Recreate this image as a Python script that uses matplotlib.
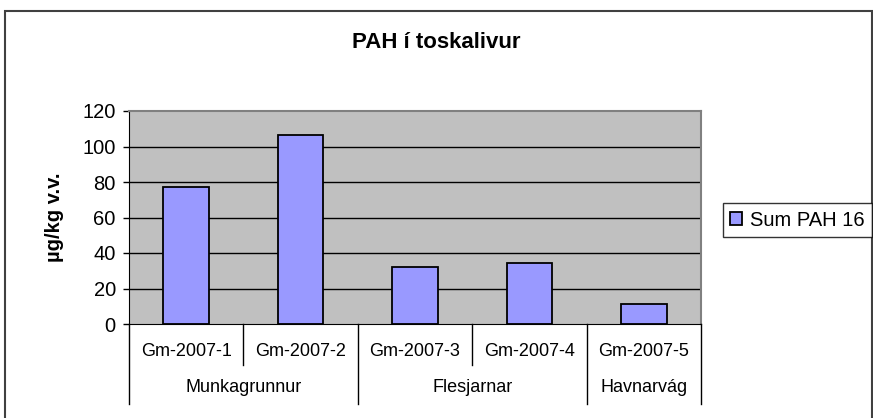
import matplotlib.pyplot as plt
from matplotlib.patches import Rectangle
from matplotlib.lines import Line2D
import matplotlib.transforms as mtransforms

plt.rcParams['font.family'] = ['Liberation Sans', 'DejaVu Sans']

# data
samples = ["Gm-2007-1", "Gm-2007-2", "Gm-2007-3", "Gm-2007-4", "Gm-2007-5"]
sites = ["Munkagrunnur", "Flesjarnar", "Havnarvág"]
site_sizes = [2, 2, 1]
sum_pah16 = [77, 106.5, 32.3, 34.5, 11.1]

fig = plt.figure(figsize=(8.73, 4.18), dpi=100)
W, H = 873, 418
ax = fig.add_axes([129 / W, 1 - 324 / H, (701 - 129) / W, (324 - 111) / H])
ax.set_facecolor("#C0C0C0")

xs = list(range(len(samples)))
ax.bar(xs, sum_pah16, width=0.4, color="#9999FF", edgecolor="black",
       linewidth=1.3, zorder=3, label="Sum PAH 16")

ax.set_xlim(-0.5, len(samples) - 0.5)
ax.set_ylim(0, 120)
ax.set_yticks(range(0, 121, 20))
ax.tick_params(axis="y", direction="out", length=4.5, width=1, labelsize=14.5, pad=5)
ax.set_xticks([])
for v in range(20, 120, 20):
    ax.axhline(v, color="black", linewidth=1, zorder=1)

for s in ["top", "right"]:
    ax.spines[s].set_color("#808080")
    ax.spines[s].set_linewidth(1.5)
ax.spines["left"].set_color("black")
ax.spines["bottom"].set_color("black")

fig.text(55 / W, 1 - 217 / H, "µg/kg v.v.", rotation=90, ha="center",
         va="center", fontsize=14.5, fontweight="bold")
fig.text(0.5, 1 - 42 / H, "PAH í toskalivur", ha="center", va="center",
         fontsize=16, fontweight="bold")

# two-level category axis drawn below the plot area
trans = mtransforms.blended_transform_factory(ax.transData, fig.transFigure)
y0 = 1 - 324 / H
y_short = 1 - 365 / H
y_long = 1 - 404 / H
group_edges = [-0.5]
for n in site_sizes:
    group_edges.append(group_edges[-1] + n)
for i in range(len(samples) + 1):
    xb = i - 0.5
    y1 = y_long if xb in group_edges else y_short
    fig.add_artist(Line2D([xb, xb], [y0, y1], transform=trans, color="black",
                          linewidth=1))
for i, name in enumerate(samples):
    fig.text(i, 1 - 351 / H, name, transform=trans, ha="center", va="center",
             fontsize=13)
for k, site in enumerate(sites):
    mid = (group_edges[k] + group_edges[k + 1]) / 2
    fig.text(mid, 1 - 388 / H, site, transform=trans, ha="center", va="center",
             fontsize=13)

leg = fig.legend(loc="center left", bbox_to_anchor=(723 / W, 1 - 220 / H),
                 fontsize=14.5, frameon=True, fancybox=False, handlelength=0.6,
                 handleheight=0.6, handletextpad=0.4, borderpad=0.35,
                 borderaxespad=0)
leg.get_frame().set_edgecolor("black")
leg.get_frame().set_linewidth(1)

# chart area border
fig.add_artist(Rectangle((5 / W, -0.05), 867 / W, 1.05 - 11 / H,
                         transform=fig.transFigure, fill=False,
                         edgecolor="#404040", linewidth=1.5))

fig.savefig("out.png", dpi=100)
